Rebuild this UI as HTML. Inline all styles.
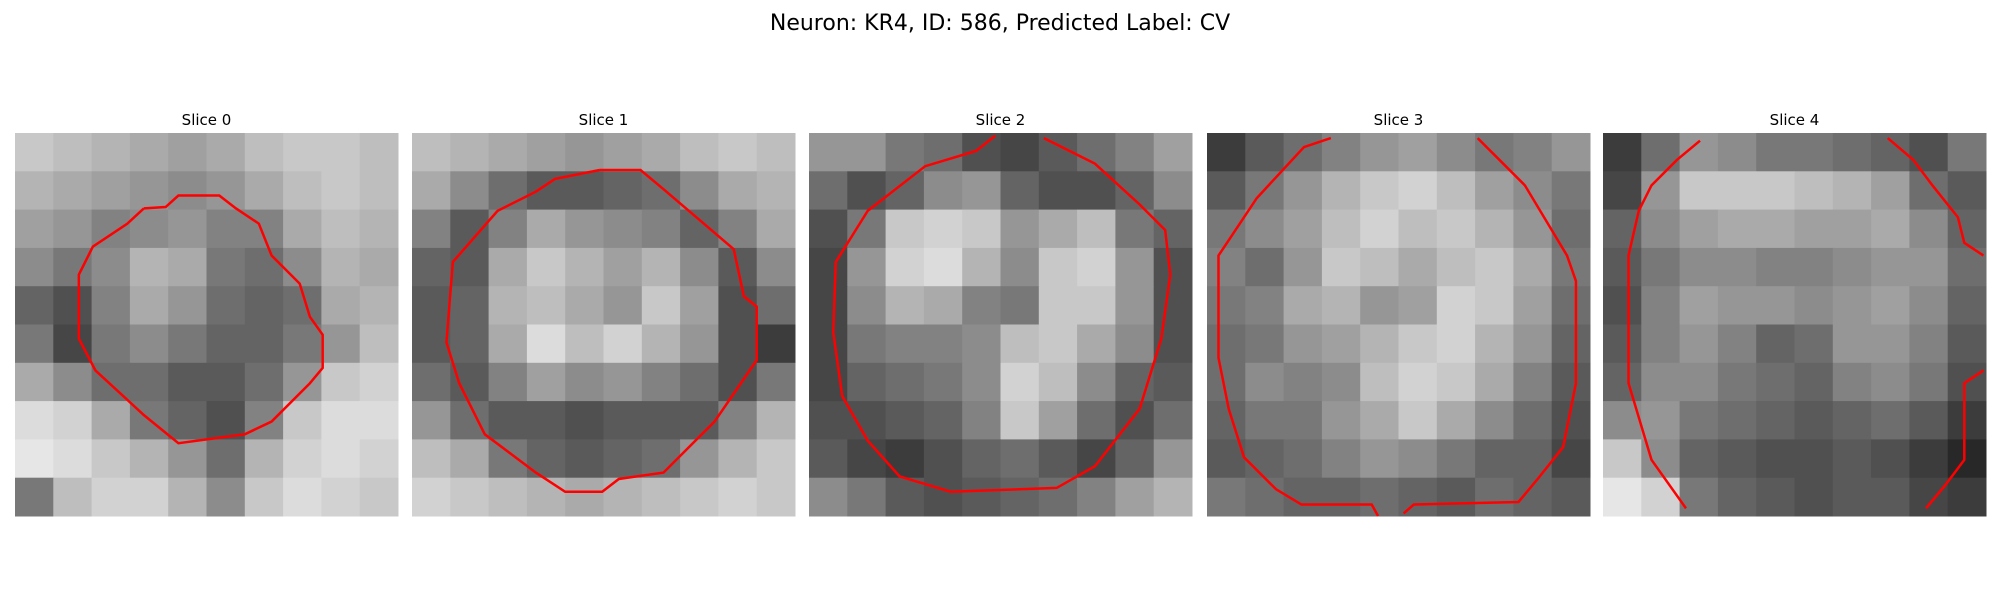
<!DOCTYPE html>
<html><head><meta charset="utf-8"><style>
html,body{margin:0;padding:0;background:#fff;width:2000px;height:600px;overflow:hidden;font-family:"DejaVu Sans","Liberation Sans",sans-serif}
</style></head><body>
<svg id="fig" width="2000" height="600" viewBox="0 0 2000 600" xmlns="http://www.w3.org/2000/svg" font-family="DejaVu Sans, Liberation Sans, sans-serif">
<text x="1000" y="30" text-anchor="middle" font-size="22" fill="#000">Neuron: KR4, ID: 586, Predicted Label: CV</text>
</svg>
<script>
const sliceTitles=["Slice 0","Slice 1","Slice 2","Slice 3","Slice 4"];
const grid0=[[200,190,180,170,160,170,190,200,200,190],[180,170,160,150,140,150,170,190,200,190],[160,150,130,140,150,130,130,170,190,180],[140,120,140,180,170,120,110,140,180,170],[100,80,130,170,150,110,100,110,170,180],[120,70,120,140,120,100,100,120,150,190],[170,140,110,110,90,90,110,150,200,210],[220,210,170,120,100,80,130,200,220,220],[230,220,200,180,150,110,180,210,220,210],[120,190,210,210,180,140,200,220,210,200]];
const grid1=[[190,180,170,160,150,160,170,190,200,190],[170,140,110,90,90,100,110,140,170,180],[130,90,130,170,150,140,130,100,130,170],[100,90,170,200,180,160,180,140,90,140],[90,100,180,190,170,150,200,160,80,110],[90,100,170,220,190,210,180,150,80,60],[110,90,130,160,140,150,130,110,80,120],[150,110,90,90,80,90,90,90,130,180],[190,170,120,100,90,100,110,150,180,200],[210,200,190,180,170,180,190,200,210,200]];
const grid2=[[150,150,120,110,80,70,90,110,130,160],[110,80,100,140,150,100,80,80,100,140],[80,120,200,210,200,150,170,190,120,100],[70,150,210,220,180,140,200,210,150,80],[70,140,180,170,130,120,200,200,150,80],[70,120,130,130,140,190,200,170,140,80],[70,100,110,120,140,210,190,140,100,90],[80,80,90,100,130,200,160,110,80,110],[90,70,60,80,100,110,90,70,100,150],[140,120,90,80,90,100,110,130,160,180]];
const grid3=[[60,90,110,130,150,160,140,120,130,150],[90,120,150,180,200,210,190,160,140,120],[120,140,160,190,210,190,200,180,150,110],[130,110,150,200,190,170,190,200,170,120],[120,130,170,180,150,160,210,200,160,110],[110,120,150,160,180,200,210,180,150,100],[110,140,130,140,190,210,200,170,130,90],[100,120,120,150,170,200,170,140,110,80],[90,100,110,130,150,140,120,100,100,70],[120,110,100,100,110,100,90,110,100,90]];
const grid4=[[60,110,150,140,120,120,110,100,80,120],[70,150,200,200,200,190,180,160,110,90],[100,140,160,170,170,160,160,170,140,100],[90,120,140,140,130,130,140,150,150,110],[80,130,160,150,150,140,150,160,140,100],[90,130,150,130,100,110,150,150,130,90],[100,140,140,120,110,100,130,140,120,80],[140,150,120,110,100,90,100,110,90,60],[200,140,100,90,80,80,90,80,60,40],[230,210,120,100,90,80,90,90,70,60]];
const contour0=[[[10.1,5.9],[11.8,5.8],[12.8,4.9],[16,4.9],[17.3,5.9],[19.1,7.1],[20.1,9.6],[22.3,11.8],[23.1,14.4],[24.1,15.8],[24.1,18.4],[23.1,19.6],[20.1,22.6],[18,23.6],[12.8,24.3],[10.1,22.1],[6.3,18.6],[5,16.1],[5,11.1],[6.1,8.9],[8.8,7.1],[10.1,5.9]]];
const contour1=[[[14.7,2.9],[17.9,2.9],[19.7,4.4],[25.2,9.1],[26,12.8],[27,13.6],[27,17.8],[23.7,22.6],[19.7,26.6],[16.2,27.1],[14.9,28.1],[12,28.1],[9.7,26.6],[5.7,23.6],[3.7,19.6],[2.7,16.4],[3.2,10.1],[6.7,6.1],[9.7,4.6],[11.2,3.6],[14.7,2.9]]];
const contour2=[[[18.4,0.4],[20.4,1.4],[22.4,2.4],[25.9,5.6],[27.9,7.6],[28.3,11.1],[27.6,16.1],[25.9,21.6],[22.4,26.1],[19.4,27.8],[11.1,28.1],[7.1,26.9],[4.6,24.1],[2.6,20.6],[1.9,15.6],[2.1,10.1],[4.6,6.1],[9.1,2.6],[13.1,1.4],[14.6,0.2]]];
const contour3=[[[9.7,0.4],[7.6,1.1],[3.9,5.1],[1.9,8.1],[0.9,9.6],[0.9,17.6],[1.7,21.6],[2.9,25.4],[5.4,27.9],[7.4,29.1],[12.9,29.1],[13.4,30]],[[21.2,0.4],[22.9,2.1],[24.9,4.1],[26.4,6.6],[28.2,9.6],[28.9,11.6],[28.9,19.6],[27.9,24.6],[25.9,27.1],[24.4,28.9],[16.2,29.1],[15.4,29.8]]];
const contour4=[[[7.6,0.6],[5.8,2.1],[3.8,4.1],[2.8,6.1],[2,9.6],[2,19.6],[3.8,25.6],[6.5,29.4]],[[22.3,0.4],[24.3,2.1],[25.8,4.1],[27.8,6.6],[28.3,8.6],[29.8,9.6]],[[29.8,18.6],[28.3,19.6],[28.3,25.6],[26.8,27.6],[25.3,29.4]]];
const grids=[grid0,grid1,grid2,grid3,grid4];
const contours=[contour0,contour1,contour2,contour3,contour4];
const NS="http://www.w3.org/2000/svg";
const svg=document.getElementById("fig");
const panelX=[15,412,809,1207,1603], panelY=133, panelSize=383, units=30;
function mk(tag,attrs){const e=document.createElementNS(NS,tag);for(const k in attrs)e.setAttribute(k,attrs[k]);return e;}
grids.forEach((g,p)=>{
  const grp=mk("g",{});
  
  
  svg.appendChild(grp);
  const x0=panelX[p];
  const sx=v=>x0+v/units*panelSize, sy=v=>panelY+v/units*panelSize;
  const n=g.length, cw=panelSize/g[0].length, ch=panelSize/n;
  g.forEach((row,r)=>row.forEach((v,c)=>{
    const rect=mk("rect",{x:x0+c*cw,y:panelY+r*ch,width:cw+0.5,height:ch+0.5,fill:`rgb(${v},${v},${v})`});
    
    
    grp.appendChild(rect);
  }));
  contours[p].forEach(line=>{
    const pl=mk("polyline",{points:line.map(pt=>sx(pt[0])+","+sy(pt[1])).join(" "),fill:"none",stroke:"#ff0000","stroke-width":2.5});
    
    
    grp.appendChild(pl);
  });
  const t=mk("text",{x:x0+panelSize/2,y:125,"text-anchor":"middle","font-size":15,fill:"#000"});
  t.textContent=sliceTitles[p];
  
  
  grp.appendChild(t);
});
</script>
</body></html>
